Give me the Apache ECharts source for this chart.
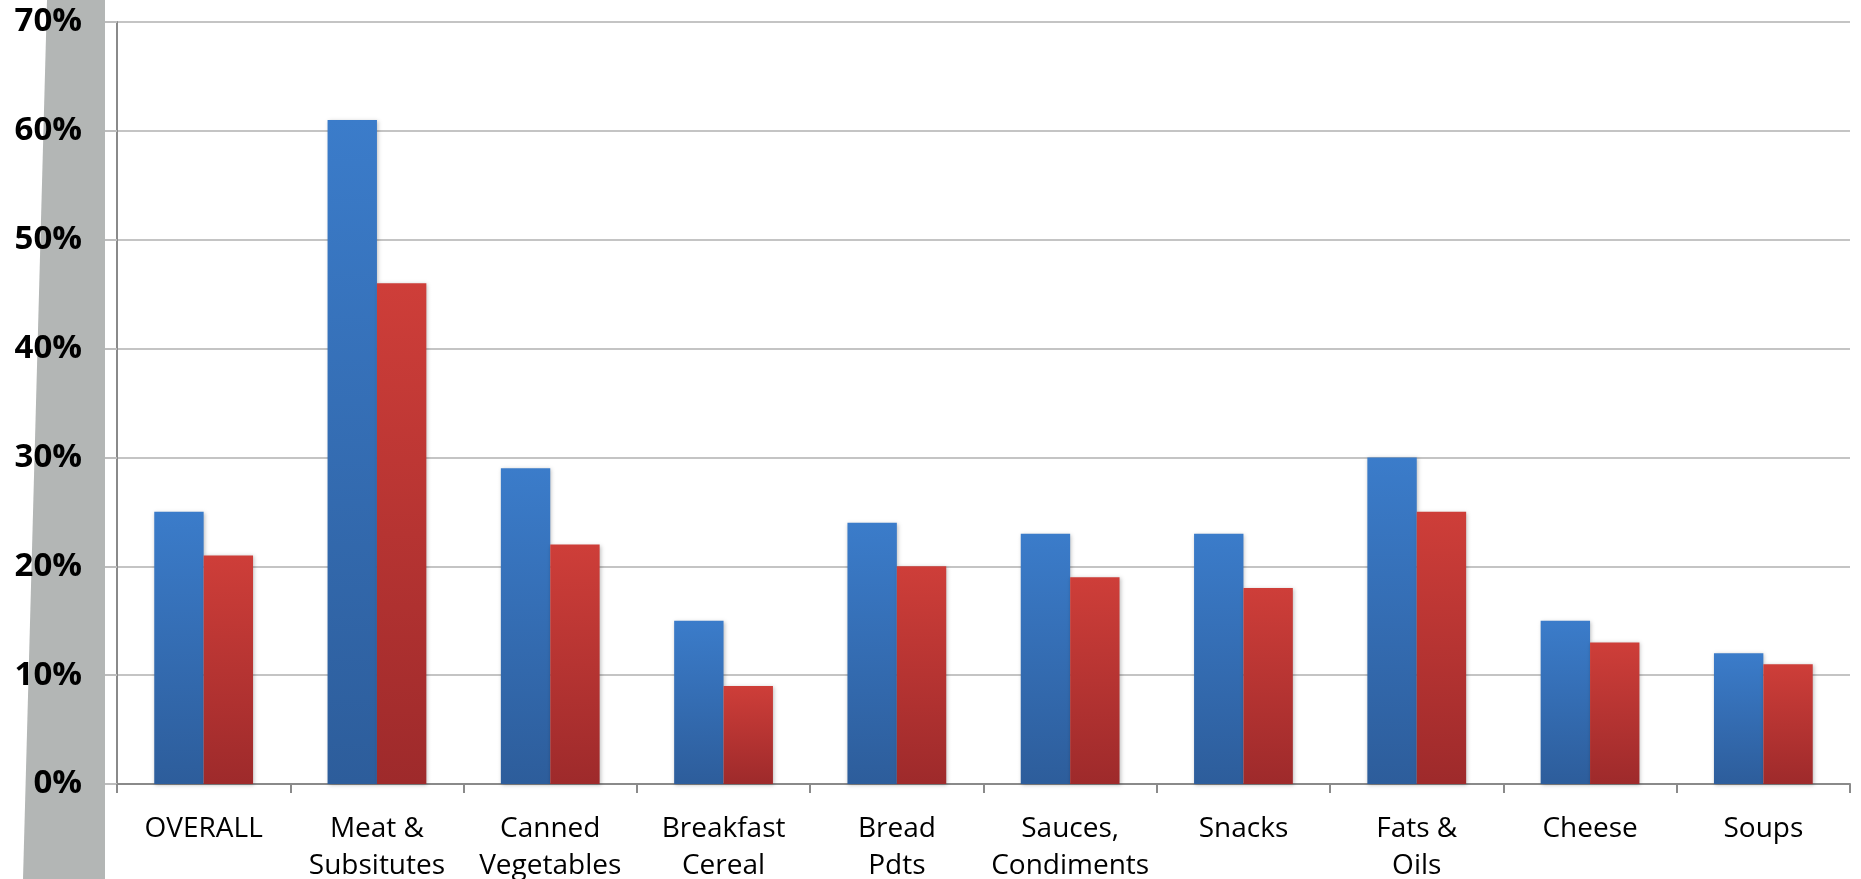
<!DOCTYPE html>
<html>
<head>
<meta charset="utf-8">
<script src="https://cdn.jsdelivr.net/npm/echarts@6/dist/echarts.min.js"></script>
<style>
html,body{margin:0;padding:0;background:#fff;}
#chart{width:1861px;height:879px;}
</style>
</head>
<body>
<div id="chart"></div>
<script>
const categories = ["OVERALL", "Meat &\nSubsitutes", "Canned\nVegetables", "Breakfast\nCereal", "Bread\nPdts", "Sauces,\nCondiments", "Snacks", "Fats &\nOils", "Cheese", "Soups"];
const seriesBlue = [25, 61, 29, 15, 24, 23, 23, 30, 15, 12];
const seriesRed = [21, 46, 22, 9, 20, 19, 18, 25, 13, 11];
const yTicks = [0, 10, 20, 30, 40, 50, 60, 70];

const chart = echarts.init(document.getElementById('chart'), null, {renderer: 'canvas'});
const blueGrad = new echarts.graphic.LinearGradient(0, 0, 0, 1, [
  {offset: 0, color: '#3b7cca'}, {offset: 1, color: '#2d5d9b'}
]);
const redGrad = new echarts.graphic.LinearGradient(0, 0, 0, 1, [
  {offset: 0, color: '#ce3e39'}, {offset: 1, color: '#9e2a2b'}
]);
chart.setOption({
  animation: false,
  backgroundColor: '#ffffff',
  graphic: [{
    type: 'polygon',
    z: -10,
    shape: {points: [[47, 0], [105, 0], [105, 879], [23, 879]]},
    style: {fill: '#b3b6b5'}
  }],
  grid: {left: 117, right: 11, top: 22, bottom: 95, containLabel: false, outerBoundsMode: 'none'},
  xAxis: {
    type: 'category',
    data: categories,
    axisLine: {show: true, lineStyle: {color: '#8a8a8a', width: 2}},
    axisTick: {show: true, alignWithLabel: false, length: 9, lineStyle: {color: '#8a8a8a', width: 2}},
    axisLabel: {
      interval: 0, margin: 27, color: '#000',
      fontFamily: 'Open Sans', fontSize: 28, lineHeight: 37
    },
    splitLine: {show: false}
  },
  yAxis: {
    type: 'value',
    min: yTicks[0], max: yTicks[yTicks.length - 1], interval: 10,
    axisLine: {show: true, lineStyle: {color: '#8a8a8a', width: 2}},
    axisTick: {show: true, length: 12, lineStyle: {color: '#bdbdbd', width: 2}},
    axisLabel: {
      margin: 35, color: '#000', fontFamily: 'Open Sans', fontWeight: 'bold', fontSize: 33,
      formatter: v => v + '%'
    },
    splitLine: {show: true, lineStyle: {color: '#c4c4c4', width: 2}}
  },
  series: [{
    type: 'bar', data: seriesBlue, barGap: '0%', barCategoryGap: '43%',
    itemStyle: {color: blueGrad, shadowColor: 'rgba(0,0,0,0.25)', shadowBlur: 4, shadowOffsetX: 1, shadowOffsetY: 1},
    z: 2
  }, {
    type: 'bar', data: seriesRed, barGap: '0%', barCategoryGap: '43%',
    itemStyle: {color: redGrad, shadowColor: 'rgba(0,0,0,0.25)', shadowBlur: 4, shadowOffsetX: 1, shadowOffsetY: 1},
    z: 2
  }]
});
</script>
</body>
</html>
